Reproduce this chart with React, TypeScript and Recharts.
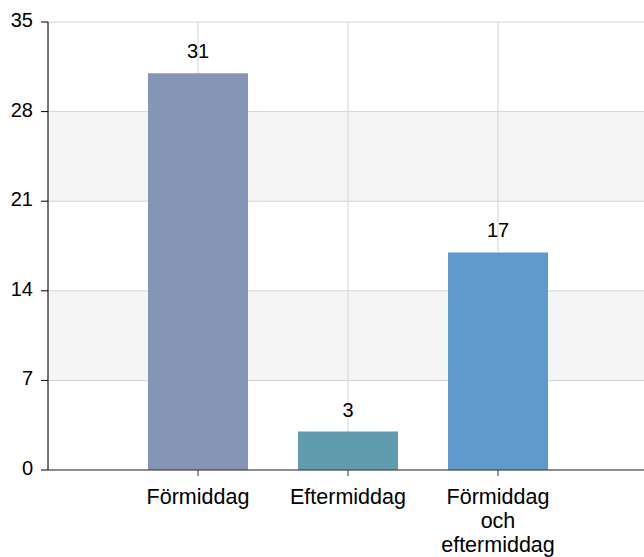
import { BarChart, Bar, XAxis, YAxis, CartesianGrid, Cell, LabelList } from 'recharts';

const categories = ['Förmiddag', 'Eftermiddag', 'Förmiddag och eftermiddag'];
const counts = [31, 3, 17];
const yTicks = [0, 7, 14, 21, 28, 35];

const barColors = ['#8595b5', '#619bae', '#5e9acb'];

const data = categories.map((name, i) => ({ name, value: counts[i] }));

const FONT = '"Liberation Sans", Arial, sans-serif';

// greedy word wrap, roughly the width of one bar
const wrap = (label: string, maxChars = 11) => {
  const lines: string[] = [];
  let cur = '';
  label.split(' ').forEach((w) => {
    if (!cur) cur = w;
    else if ((cur + ' ' + w).length <= maxChars) cur += ' ' + w;
    else {
      lines.push(cur);
      cur = w;
    }
  });
  if (cur) lines.push(cur);
  return lines;
};

const XTick = ({ x, y, payload }: any) => {
  const lines = wrap(String(payload.value));
  return (
    <text x={x} y={y} textAnchor="middle" fill="#000" fontSize={21.5} fontFamily={FONT}>
      {lines.map((l, i) => (
        <tspan key={i} x={x} y={y + 25.5 + i * 24}>
          {l}
        </tspan>
      ))}
    </text>
  );
};

const YTick = ({ x, y, payload }: any) => (
  <text x={x - 6} y={y + 5} textAnchor="end" fill="#000" fontSize={20} fontFamily={FONT}>
    {payload.value}
  </text>
);

const TopLabel = ({ x, y, width, value }: any) => (
  <text
    x={x + width / 2}
    y={y - 15}
    textAnchor="middle"
    fill="#000"
    fontSize={20}
    fontFamily={FONT}
  >
    {value}
  </text>
);

const App = () => {
  return (
    <div
      style={{
        position: 'absolute',
        left: 0,
        top: 0,
        width: 644,
        height: 557,
        overflow: 'hidden',
        background: '#fff',
      }}
    >
      <BarChart
        width={648}
        height={557}
        data={data}
        margin={{ top: 22, right: 0, left: 0, bottom: 27 }}
      >
        <CartesianGrid
          stroke="#d4d4d4"
          horizontalFill={['#ffffff', '#f5f5f5']}
          fillOpacity={1}
        />
        <XAxis
          dataKey="name"
          height={60}
          padding={{ left: 75, right: 75 }}
          interval={0}
          tick={<XTick />}
          tickSize={6}
          axisLine={{ stroke: '#333' }}
          tickLine={{ stroke: '#333' }}
        />
        <YAxis
          width={48}
          domain={[0, 35]}
          ticks={yTicks}
          tick={<YTick />}
          tickSize={7}
          axisLine={{ stroke: '#000' }}
          tickLine={{ stroke: '#000' }}
        />
        <Bar dataKey="value" barSize={100} isAnimationActive={false}>
          {data.map((d, i) => (
            <Cell key={d.name} fill={barColors[i]} />
          ))}
          <LabelList dataKey="value" content={<TopLabel />} />
        </Bar>
      </BarChart>
    </div>
  );
};

export default App;
